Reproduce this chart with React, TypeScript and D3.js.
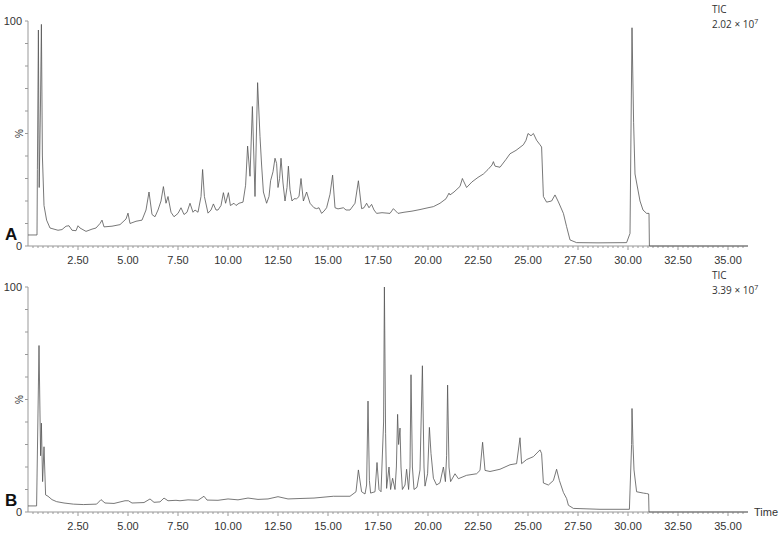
import React, { useEffect, useRef } from "react";
import * as d3 from "d3";

// time (min), relative intensity (%)
const traceA: [number, number][] = [
  [0, 4.9], [0.45, 4.9], [0.47, 34], [0.52, 96], [0.56, 26], [0.62, 60], [0.67, 98.5], [0.72, 40],
  [0.8, 18], [0.93, 11.5], [1.1, 8], [1.3, 7.5], [1.5, 7], [1.7, 7.3], [1.9, 8.8], [2.05, 9],
  [2.2, 7], [2.4, 6.8], [2.5, 9], [2.6, 8], [2.9, 6.5], [3.2, 7.5], [3.4, 8], [3.6, 10], [3.7, 11.5],
  [3.8, 8.5], [4.2, 8.8], [4.6, 9.5], [4.9, 12], [5.0, 14.6], [5.1, 10], [5.4, 11], [5.7, 11.5],
  [5.9, 16], [6.05, 24], [6.2, 14], [6.35, 13], [6.5, 16], [6.65, 20], [6.77, 26.4], [6.9, 19],
  [7.0, 22], [7.15, 15], [7.3, 13], [7.5, 14.5], [7.65, 17], [7.8, 14], [7.95, 15], [8.1, 19],
  [8.25, 15], [8.35, 16], [8.5, 15], [8.65, 22], [8.73, 34], [8.82, 22], [9.0, 14.6], [9.15, 16],
  [9.27, 18.7], [9.4, 16], [9.5, 16], [9.65, 18], [9.77, 23.7], [9.88, 19], [10.02, 23.7],
  [10.12, 18], [10.3, 19], [10.4, 18], [10.55, 19], [10.75, 19.5], [10.88, 27], [10.98, 44.4],
  [11.1, 31], [11.22, 62], [11.35, 22], [11.48, 72.6], [11.6, 48.6], [11.68, 36], [11.77, 24],
  [11.93, 19], [12.05, 22], [12.13, 29], [12.25, 33], [12.35, 39], [12.43, 36.7], [12.5, 26],
  [12.58, 30], [12.65, 39], [12.75, 28], [12.85, 20], [12.95, 26], [13.02, 35.5], [13.1, 25],
  [13.2, 20], [13.3, 21], [13.43, 21], [13.55, 22], [13.65, 30], [13.77, 20], [13.93, 24],
  [14.1, 19], [14.3, 17], [14.43, 16.6], [14.55, 17], [14.68, 14.5], [14.8, 15.5], [14.93, 17],
  [15.1, 23], [15.23, 31.5], [15.35, 17], [15.5, 16.5], [15.77, 17], [15.9, 16], [16.1, 16],
  [16.35, 19], [16.52, 29], [16.68, 16.6], [16.8, 17], [16.93, 19], [17.05, 17], [17.18, 18.5],
  [17.3, 16], [17.43, 14.5], [17.7, 14.8], [18.1, 14.5], [18.27, 16.6], [18.5, 14.5], [18.8, 15],
  [19.2, 15.5], [19.6, 16.2], [20.0, 17], [20.27, 17.5], [20.6, 19], [20.9, 21], [21.05, 23.5],
  [21.1, 22.7], [21.3, 24], [21.6, 26.5], [21.72, 30], [21.77, 29], [21.93, 26], [22.2, 28.5],
  [22.5, 30.5], [22.77, 32], [23.0, 34], [23.2, 36], [23.27, 37.5], [23.35, 35.5], [23.6, 35],
  [23.9, 38.5], [24.1, 41], [24.4, 42.5], [24.77, 45], [24.9, 47], [25.0, 50], [25.15, 49],
  [25.27, 50], [25.43, 47], [25.6, 45], [25.68, 44], [25.77, 22], [25.93, 19.5], [26.18, 20],
  [26.35, 22.7], [26.52, 19.6], [26.77, 14.5], [26.93, 8.6], [27.1, 2.7], [27.43, 1.5],
  [28.5, 1.4], [29.93, 1.5], [30.1, 5.6], [30.2, 97], [30.28, 55], [30.35, 32], [30.6, 20],
  [30.75, 16], [30.93, 14.5], [31.05, 14.5], [31.07, 0], [36, 0],
];

const traceB: [number, number][] = [
  [0, 2.7], [0.43, 2.7], [0.55, 74], [0.63, 25], [0.67, 39.5], [0.73, 13.5], [0.8, 29], [0.88, 7.6],
  [1.0, 7], [1.2, 5.5], [1.43, 4.6], [1.8, 4], [2.27, 3.5], [2.77, 3.3], [3.43, 3.5], [3.65, 5.5],
  [3.85, 4], [4.3, 3.8], [4.85, 5], [5.02, 5], [5.2, 4], [5.8, 4.2], [6.1, 5.8], [6.3, 4.3],
  [6.6, 4.5], [6.8, 6.2], [7.0, 5], [7.4, 5.2], [7.6, 5], [8.0, 5.4], [8.5, 5.2], [8.8, 7],
  [8.95, 5.3], [9.5, 5.2], [10.0, 5.8], [10.5, 5.4], [11.0, 6.2], [11.5, 5.6], [12.0, 5.8],
  [12.5, 6.8], [13.0, 5.8], [13.6, 6], [14.3, 6.2], [15.27, 7], [16.1, 7], [16.4, 9], [16.52, 18.7],
  [16.68, 9], [16.85, 8], [16.93, 12], [17.0, 49.3], [17.07, 14], [17.13, 8.4], [17.35, 9],
  [17.45, 22], [17.55, 10], [17.65, 9], [17.78, 40], [17.82, 100], [17.88, 35], [17.93, 10.5],
  [18.05, 20], [18.13, 10], [18.23, 15], [18.35, 10], [18.42, 20], [18.48, 43.4], [18.53, 30],
  [18.6, 37.3], [18.65, 20], [18.72, 10], [18.85, 12], [18.93, 19], [19.03, 10], [19.1, 20],
  [19.15, 61], [19.22, 20], [19.3, 10], [19.45, 11], [19.6, 18.7], [19.72, 65], [19.8, 20],
  [19.85, 11.5], [19.98, 17], [20.07, 37.6], [20.15, 26], [20.27, 15], [20.43, 12], [20.6, 13],
  [20.77, 20], [20.87, 13.5], [20.93, 25], [20.98, 56.4], [21.05, 20], [21.13, 13.5], [21.35, 17],
  [21.52, 14.8], [21.93, 16.3], [22.43, 17], [22.6, 18.5], [22.73, 31], [22.85, 18.5], [23.1, 18],
  [23.6, 19], [24.1, 21], [24.43, 21.5], [24.6, 33], [24.68, 21.5], [24.93, 23.3], [25.27, 24.6],
  [25.6, 27.6], [25.68, 26], [25.77, 12.9], [26.02, 12], [26.27, 14], [26.43, 19], [26.57, 14],
  [26.77, 8.7], [26.93, 6], [27.02, 3], [27.27, 1.6], [28.6, 1.2], [30.07, 1.2], [30.18, 30],
  [30.2, 46], [30.25, 30], [30.3, 18.7], [30.43, 9], [30.77, 8.4], [30.93, 8.2], [31.03, 8],
  [31.05, 0], [36, 0],
];

const panelLabels = ["A", "B"];
const ticTotals = ["2.02", "3.39"];
const xTickLabels = ["2.50", "5.00", "7.50", "10.00", "12.50", "15.00", "17.50", "20.00", "22.50", "25.00", "27.50", "30.00", "32.50", "35.00"];

const W = 782;
const H = 536;
const font = "'Liberation Sans', Arial, sans-serif";

const Panel = ({ data, label, tic, top, showTime }) => {
  const ref = useRef(null);

  useEffect(() => {
    const g = d3.select(ref.current);
    g.selectAll("*").remove();

    const x = d3.scaleLinear().domain([0, 36]).range([28, 748]);
    const y = d3.scaleLinear().domain([0, 100]).range([top + 225, top]);

    // y axis
    g.append("line")
      .attr("x1", 28).attr("x2", 28).attr("y1", y(0)).attr("y2", y(100))
      .attr("stroke", "#999").attr("stroke-width", 1);
    d3.range(0, 101, 10).forEach((v) => {
      g.append("line")
        .attr("x1", 25).attr("x2", 28).attr("y1", y(v)).attr("y2", y(v))
        .attr("stroke", "#999");
    });
    g.append("text").attr("x", 22).attr("y", y(100) + 4).attr("text-anchor", "end")
      .style("font-family", font).style("font-size", "11px").attr("fill", "#333").text("100");
    g.append("text").attr("x", 22).attr("y", y(0) + 4).attr("text-anchor", "end")
      .style("font-family", font).style("font-size", "11px").attr("fill", "#333").text("0");
    g.append("text")
      .attr("transform", `translate(23,${y(50)}) rotate(-90)`)
      .attr("text-anchor", "middle")
      .style("font-family", font).style("font-size", "10px").attr("fill", "#333").text("%");

    // x axis
    g.append("line")
      .attr("x1", 28).attr("x2", 748).attr("y1", y(0)).attr("y2", y(0))
      .attr("stroke", "#999");
    d3.range(0.25, 36, 0.25).forEach((t) => {
      const major = Math.abs(t / 2.5 - Math.round(t / 2.5)) < 1e-6;
      g.append("line")
        .attr("x1", x(t)).attr("x2", x(t)).attr("y1", y(0)).attr("y2", y(0) + (major ? 4 : 2))
        .attr("stroke", "#999");
    });
    xTickLabels.forEach((s) => {
      g.append("text").attr("x", x(+s)).attr("y", y(0) + 18).attr("text-anchor", "middle")
        .style("font-family", font).style("font-size", "11px").attr("fill", "#333").text(s);
    });

    // trace
    const line = d3.line().x((d) => x(d[0])).y((d) => y(d[1]));
    g.append("path").datum(data).attr("d", line)
      .attr("fill", "none").attr("stroke", "#555").attr("stroke-width", 0.8);

    // panel letter
    g.append("text").attr("x", 5).attr("y", y(0) - 6)
      .style("font-family", font).style("font-size", "17px").style("font-weight", "bold")
      .attr("fill", "#111").text(label);

    // TIC
    const tf = "'Open Sans', 'Liberation Sans', sans-serif";
    g.append("text").attr("x", 712).attr("y", top - 8)
      .style("font-family", tf).style("font-size", "10px").attr("fill", "#333").text("TIC");
    const t2 = g.append("text").attr("x", 712).attr("y", top + 7)
      .style("font-family", tf).style("font-size", "10px").attr("fill", "#333");
    t2.append("tspan").text(`${tic} × 10`);
    t2.append("tspan").attr("dy", -4).style("font-size", "7px").text("7");

    if (showTime) {
      g.append("text").attr("x", 754).attr("y", y(0) + 4)
        .style("font-family", font).style("font-size", "11px").attr("fill", "#333").text("Time");
    }
  }, [data, label, tic, top, showTime]);

  return <g ref={ref} />;
};

export default function App() {
  return (
    <svg width={W} height={H} style={{ position: "absolute", left: 0, top: 0, background: "#fff" }}>
      <Panel data={traceA} label={panelLabels[0]} tic={ticTotals[0]} top={21} showTime={false} />
      <Panel data={traceB} label={panelLabels[1]} tic={ticTotals[1]} top={287} showTime={true} />
    </svg>
  );
}
